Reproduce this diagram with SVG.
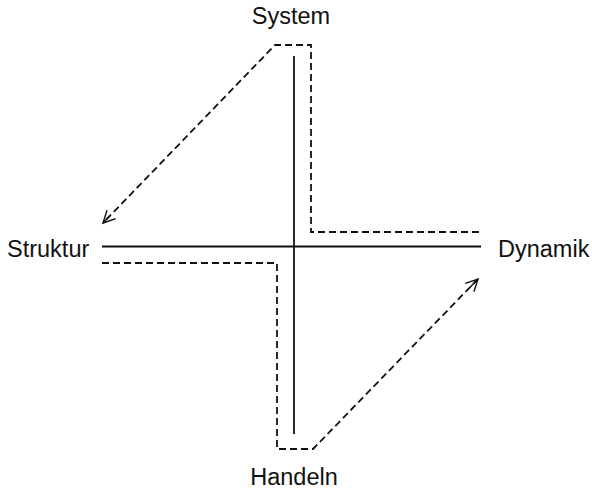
<svg xmlns="http://www.w3.org/2000/svg" width="592" height="489" viewBox="0 0 592 489">
<style>
.lbl{font-family:"Liberation Sans",Arial,sans-serif;font-size:23.5px;fill:#111}
.axis{stroke:#111;stroke-width:1.8;fill:none}
.dash{stroke:#111;stroke-width:1.8;fill:none;stroke-dasharray:7,4}
</style>
<defs>
<marker id="arr" markerUnits="userSpaceOnUse" markerWidth="20" markerHeight="20" refX="14" refY="8" orient="auto" viewBox="0 0 20 16">
<path d="M2,2 L14,8 L2,14 M14,8 L3,8" stroke="#111" stroke-width="1.4" fill="none"/>
</marker>
</defs>
<rect width="592" height="489" fill="#fff"/>
<g id="connectors">
<line class="axis" x1="294" y1="56" x2="294" y2="434"/>
<line class="axis" x1="102" y1="246.5" x2="481" y2="246.5"/>
<polyline class="dash" points="479,232 311,232 311,45 275,45 103,223" marker-end="url(#arr)"/>
<polyline class="dash" points="102,263 277,263 277,449 313,449 478,279" marker-end="url(#arr)"/>
</g>
<g id="system"><text class="lbl" x="291" y="24" text-anchor="middle">System</text></g>
<g id="struktur"><text class="lbl" x="7" y="256.5">Struktur</text></g>
<g id="dynamik"><text class="lbl" x="498" y="256.5">Dynamik</text></g>
<g id="handeln"><text class="lbl" x="294" y="485" text-anchor="middle">Handeln</text></g>
</svg>
